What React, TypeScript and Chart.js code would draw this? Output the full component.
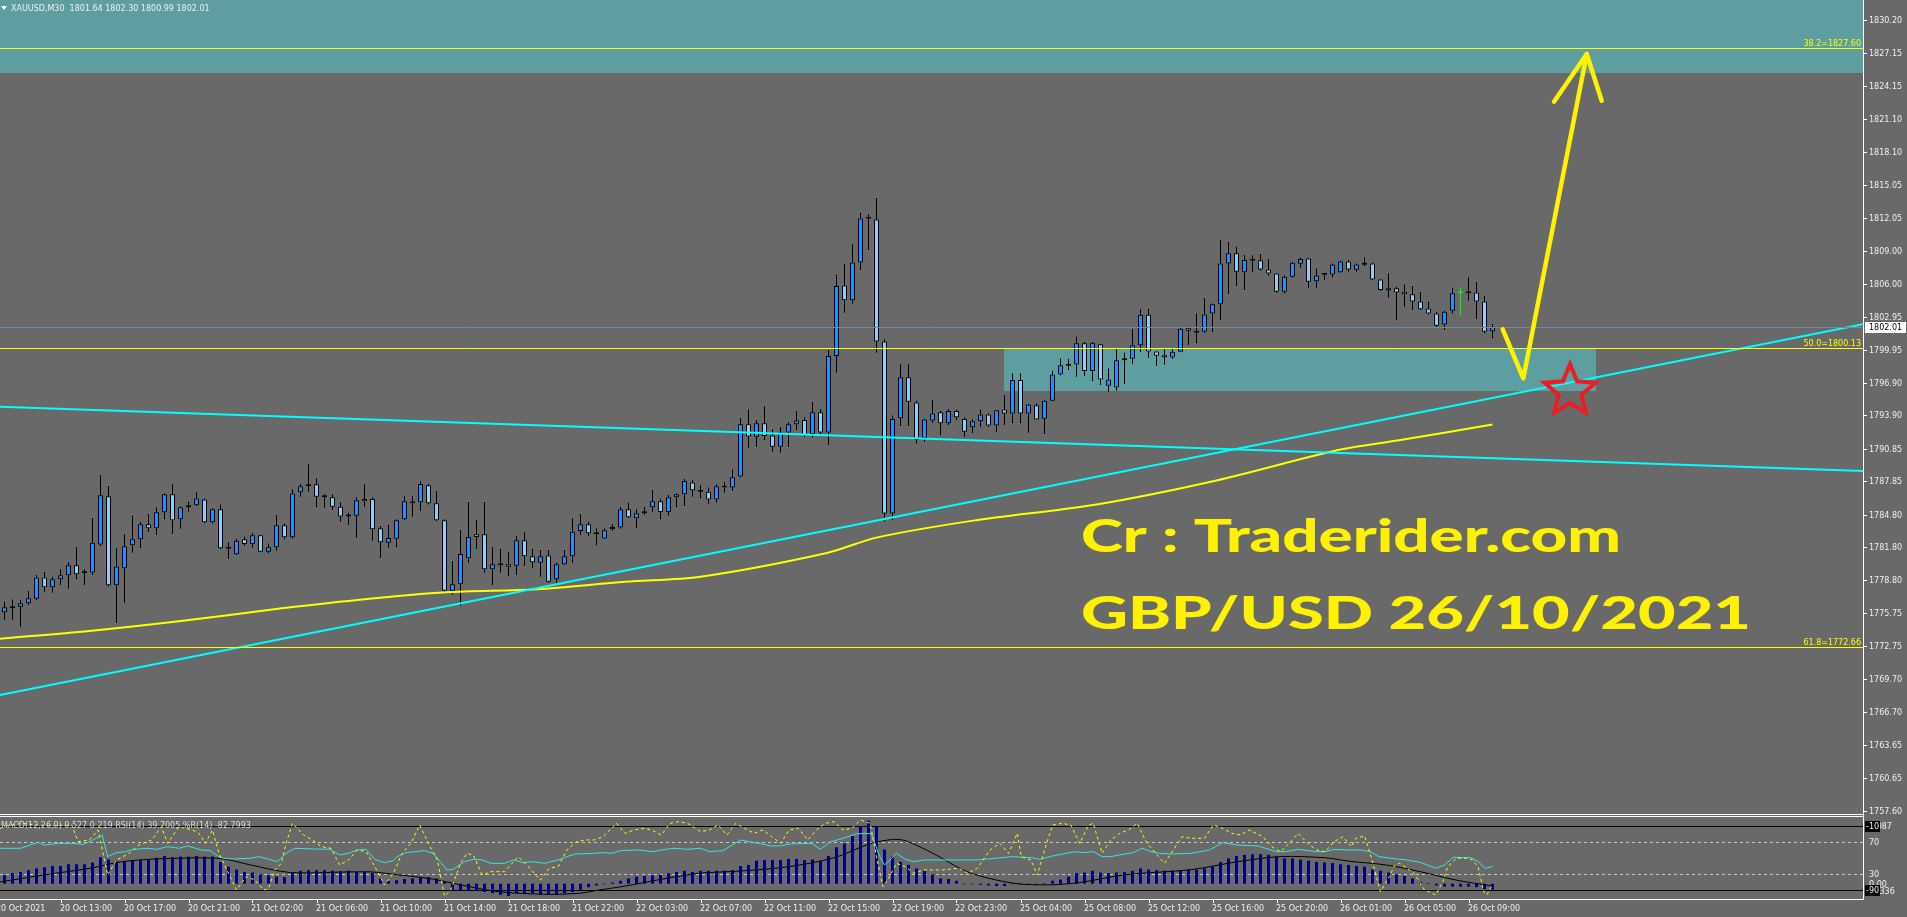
import React, { useEffect, useRef } from "react";
import { Chart, registerables } from "chart.js";

Chart.register(...registerables);

const W = 1907;
const H = 917;

const SYMBOL_HEADER = "XAUUSD,M30  1801.64 1802.30 1800.99 1802.01";
const INDICATOR_HEADER = "MACD(12,26,9) 0.527 0.219 RSI(14) 39.7005 %R(14) -82.7993";

// ---- OHLC (XAUUSD M30), bar 0 = 20 Oct 09:30 ----
const opens = [
  1775.83,1776.38,1776.35,1776.66,1777.09,1779.04,1778.13,1778.86,1779.23,1780.15,
  1779.41,1779.50,1782.07,1786.48,1778.31,1779.87,1781.98,1782.53,1783.91,1783.54,
  1785.01,1786.66,1784.37,1785.65,1785.65,1786.20,1784.09,1785.29,1781.71,1781.16,
  1782.53,1782.10,1782.90,1781.40,1781.80,1783.82,1782.72,1786.85,1787.58,1787.58,
  1786.45,1786.39,1785.53,1784.64,1784.70,1786.23,1786.23,1783.54,1782.23,1782.59,
  1784.37,1786.02,1785.93,1787.49,1785.84,1784.28,1777.82,1778.40,1780.79,1782.99,
  1782.99,1779.78,1780.24,1780.24,1780.11,1782.44,1780.97,1780.39,1781.06,1778.86,
  1780.24,1780.97,1783.30,1783.91,1783.17,1782.62,1783.48,1783.63,1785.29,1784.46,
  1784.92,1785.47,1786.02,1785.04,1786.39,1786.66,1787.76,1787.03,1786.90,1786.20,
  1787.40,1787.30,1788.31,1793.09,1791.95,1793.18,1792.07,1791.04,1792.35,1793.09,
  1793.48,1792.20,1794.19,1792.35,1799.36,1805.84,1804.47,1807.95,1811.96,1811.90,
  1800.70,1784.90,1793.64,1797.40,1795.10,1791.80,1793.45,1794.19,1793.18,1794.31,
  1793.57,1792.81,1793.36,1794.00,1792.99,1794.46,1794.09,1797.15,1794.09,1794.83,
  1793.60,1795.26,1797.67,1798.50,1798.59,1800.52,1797.98,1800.43,1796.63,1796.48,
  1798.96,1799.11,1800.34,1803.15,1799.78,1799.42,1799.23,1799.75,1801.90,1801.68,
  1801.59,1803.27,1804.10,1807.86,1808.78,1807.04,1808.17,1808.14,1807.31,1806.94,
  1805.26,1806.64,1807.83,1808.32,1806.21,1806.82,1806.85,1807.04,1808.04,1807.28,
  1807.74,1807.86,1806.39,1805.57,1805.57,1805.26,1805.02,1804.37,1803.73,1803.27,
  1802.26,1803.52,1805.11,1805.11,1805.20,1804.37,1801.64
];
const highs = [
  1776.81,1777.02,1776.96,1777.79,1779.26,1779.56,1779.11,1779.78,1780.42,1781.83,
  1779.78,1784.49,1788.44,1787.43,1781.74,1782.99,1784.73,1784.12,1784.83,1785.47,
  1786.75,1787.61,1785.56,1785.99,1786.88,1786.29,1785.38,1785.74,1782.26,1782.59,
  1782.78,1783.08,1782.93,1782.16,1784.77,1784.00,1787.12,1787.61,1789.42,1788.13,
  1786.66,1786.66,1785.93,1784.98,1786.39,1787.58,1786.39,1783.76,1783.85,1784.37,
  1786.48,1786.51,1787.89,1787.61,1786.97,1784.37,1780.51,1783.39,1785.96,1784.31,
  1785.96,1781.83,1781.64,1781.34,1782.84,1783.21,1781.64,1781.55,1781.55,1780.39,
  1781.55,1784.46,1784.83,1784.15,1783.54,1783.54,1783.91,1785.53,1785.90,1785.29,
  1785.53,1787.06,1786.26,1786.60,1786.75,1788.07,1787.98,1787.50,1787.30,1787.60,
  1787.80,1788.95,1793.67,1794.46,1793.48,1794.74,1792.63,1792.84,1793.27,1794.31,
  1793.73,1795.13,1794.49,1799.91,1806.85,1807.80,1809.64,1812.51,1812.36,1813.86,
  1800.90,1793.91,1798.62,1798.62,1795.26,1793.60,1795.32,1794.31,1794.49,1794.43,
  1793.73,1793.54,1794.46,1794.09,1794.40,1795.78,1797.77,1797.77,1794.95,1795.01,
  1795.30,1798.01,1799.14,1799.11,1801.13,1800.64,1800.64,1800.46,1798.22,1800.06,
  1799.69,1801.83,1803.64,1803.70,1799.80,1800.00,1800.06,1801.90,1802.05,1803.27,
  1804.65,1804.19,1810.00,1809.82,1809.39,1808.63,1808.60,1808.72,1808.26,1806.96,
  1806.76,1808.01,1808.38,1808.35,1807.40,1806.97,1807.86,1808.11,1808.17,1807.86,
  1808.41,1807.92,1806.42,1806.94,1805.72,1805.93,1805.78,1805.26,1804.34,1803.39,
  1803.52,1805.60,1805.66,1806.58,1806.15,1804.86,1802.30
];
const lows = [
  1775.13,1775.13,1774.52,1776.50,1776.96,1777.73,1777.64,1778.34,1778.00,1778.86,
  1778.34,1779.26,1781.90,1778.20,1774.88,1776.72,1781.31,1781.71,1783.24,1782.96,
  1784.37,1783.05,1783.51,1785.07,1785.59,1784.00,1784.00,1781.64,1780.76,1781.10,
  1781.95,1781.77,1781.36,1781.25,1781.49,1782.53,1782.62,1786.45,1786.91,1785.47,
  1785.44,1785.22,1784.15,1783.85,1782.68,1785.53,1782.41,1780.85,1781.77,1781.83,
  1784.28,1784.61,1785.13,1785.74,1784.20,1777.70,1777.48,1776.44,1780.39,1781.64,
  1779.47,1778.34,1779.47,1779.17,1779.26,1780.11,1779.87,1779.11,1778.55,1778.52,
  1780.20,1780.39,1782.93,1782.84,1781.98,1782.59,1783.30,1783.50,1784.50,1783.54,
  1784.77,1785.04,1784.37,1784.73,1785.47,1785.59,1786.45,1786.30,1785.80,1785.90,
  1786.80,1787.00,1788.20,1790.94,1791.04,1791.65,1790.57,1790.48,1791.04,1792.56,
  1791.95,1791.89,1792.10,1791.19,1797.83,1803.33,1804.16,1807.25,1809.09,1799.66,
  1784.20,1784.30,1792.93,1792.93,1791.34,1791.49,1793.24,1792.11,1793.02,1793.48,
  1791.95,1792.26,1792.87,1792.87,1792.41,1793.02,1793.18,1793.18,1792.32,1793.50,
  1792.20,1795.20,1797.60,1798.07,1797.46,1797.52,1797.06,1796.69,1796.08,1796.17,
  1796.79,1798.62,1799.75,1799.20,1798.47,1798.59,1799.08,1799.70,1800.37,1800.52,
  1801.50,1801.53,1802.66,1805.05,1805.78,1805.41,1807.10,1807.19,1806.73,1805.17,
  1805.11,1806.55,1807.46,1805.63,1805.63,1806.33,1806.58,1807.00,1807.10,1807.10,
  1807.62,1806.33,1805.35,1804.71,1802.66,1803.88,1803.58,1803.58,1803.20,1801.96,
  1801.74,1803.27,1803.12,1804.43,1802.75,1801.44,1800.99
];
const closes = [
  1776.29,1776.20,1776.66,1777.12,1779.04,1778.13,1778.86,1779.23,1780.15,1779.32,
  1779.50,1782.23,1786.57,1778.31,1780.05,1781.89,1782.53,1783.91,1783.54,1785.01,
  1786.66,1784.28,1785.47,1785.47,1786.29,1784.09,1785.29,1781.71,1781.68,1782.41,
  1782.10,1782.90,1781.40,1781.80,1783.82,1782.72,1786.75,1787.40,1787.40,1786.45,
  1786.39,1785.53,1784.64,1784.73,1786.11,1786.02,1783.45,1782.26,1782.65,1784.28,
  1786.02,1785.84,1787.61,1785.84,1784.28,1777.82,1778.40,1781.19,1782.75,1782.75,
  1779.78,1780.24,1780.15,1780.02,1782.44,1780.97,1780.42,1780.97,1778.65,1780.24,
  1780.97,1783.24,1783.91,1783.08,1782.99,1783.36,1783.66,1785.29,1784.55,1784.92,
  1785.10,1786.02,1785.04,1786.39,1786.66,1787.89,1787.03,1786.90,1786.20,1787.40,
  1787.30,1788.22,1793.09,1791.98,1793.18,1792.01,1791.04,1792.35,1793.09,1793.45,
  1792.11,1794.19,1792.35,1799.36,1805.78,1804.47,1807.95,1811.99,1812.05,1800.70,
  1784.90,1793.57,1797.40,1795.17,1791.65,1793.54,1794.09,1793.18,1794.31,1793.73,
  1792.41,1793.36,1794.00,1792.99,1794.37,1794.09,1797.15,1794.09,1794.92,1793.54,
  1795.26,1797.67,1798.50,1798.47,1800.52,1797.98,1800.58,1797.21,1797.21,1798.96,
  1799.02,1800.34,1803.15,1799.78,1799.39,1799.23,1799.75,1801.86,1801.68,1801.50,
  1803.18,1804.10,1807.86,1808.78,1807.10,1808.17,1808.11,1807.31,1806.94,1805.26,
  1806.64,1807.92,1808.26,1806.18,1806.76,1806.91,1807.77,1808.04,1807.31,1807.77,
  1807.83,1806.39,1805.41,1805.38,1805.20,1805.02,1804.37,1803.64,1803.27,1802.14,
  1803.43,1805.11,1805.11,1805.17,1804.37,1801.59,1802.01
];
const HIGHLIGHT_BAR = 182; // bar drawn in green on the chart

// moving average (read points: bar index, price)
const maPoints = [
  [-0.56,1773.41],[10.6,1774.12],[21.8,1775.01],[33.0,1776.05],[44.1,1776.96],[55.2,1777.67],
  [66.5,1777.95],[77.6,1778.64],[87.0,1779.10],[102.8,1781.28],[109.0,1782.69],[121.1,1784.25],
  [136.3,1785.71],[151.5,1787.94],[166.7,1790.73],[174.3,1791.62],[186.0,1793.07]
];

// trend lines (bar index, price)
const trendDown = [[-0.5625,1794.71],[232.3125,1788.81]];
const trendUp = [[-0.5625,1768.25],[232.3125,1802.28]];

// Fibonacci levels
const fibNames = ["38.2","50.0","61.8"];
const fibPrices = [1827.60,1800.13,1772.66];
const lastPrice = 1802.01;

// supply / demand zones
const topZoneLow = 1825.31;
const zoneFrom = 124.92, zoneTo = 198.94, zoneLow = 1796.18, zoneHigh = 1800.00;

// hand drawn arrow and star (bar index, price)
const arrowPath = [[187.28,1801.81],[189.85,1797.31],[197.78,1827.08]];
const arrowHead = [[193.69,1822.70],[197.78,1827.08],[199.65,1822.79]];
const starCenter = [195.69,1796.15];

const watermarkLines = ["Cr : Traderider.com","GBP/USD 26/10/2021"];
const watermarkBar = 134.56;
const watermarkPrices = [1781.40,1774.27];
const watermarkWidths = [540,670];

// axes
const priceTickLabels = [
  "1830.20","1827.15","1824.15","1821.10","1818.10","1815.05","1812.05","1809.00","1806.00",
  "1802.95","1799.95","1796.90","1793.90","1790.85","1787.85","1784.80","1781.80","1778.80",
  "1775.75","1772.75","1769.70","1766.70","1763.65","1760.65","1757.60"
];
const timeLabels = [
  "20 Oct 2021","20 Oct 13:00","20 Oct 17:00","20 Oct 21:00","21 Oct 02:00","21 Oct 06:00",
  "21 Oct 10:00","21 Oct 14:00","21 Oct 18:00","21 Oct 22:00","22 Oct 03:00","22 Oct 07:00",
  "22 Oct 11:00","22 Oct 15:00","22 Oct 19:00","22 Oct 23:00","25 Oct 04:00","25 Oct 08:00",
  "25 Oct 12:00","25 Oct 16:00","25 Oct 20:00","26 Oct 01:00","26 Oct 05:00","26 Oct 09:00"
];
const timeLabelBars = [-1,7,15,23,31,39,47,55,63,71,79,87,95,103,111,119,127,135,143,151,159,167,175,183];

// ---- indicator window ----
const macdHist = [
  0.14,0.18,0.20,0.23,0.26,0.28,0.30,0.30,0.33,0.33,
  0.33,0.36,0.45,0.41,0.38,0.37,0.39,0.40,0.40,0.44,
  0.47,0.45,0.46,0.46,0.47,0.46,0.46,0.37,0.29,0.24,
  0.20,0.19,0.16,0.14,0.12,0.11,0.18,0.22,0.23,0.23,
  0.23,0.22,0.21,0.22,0.20,0.20,0.18,0.09,0.05,0.06,
  0.08,0.09,0.11,0.11,0.09,0.03,-0.11,-0.11,-0.11,-0.12,
  -0.14,-0.16,-0.19,-0.21,-0.16,-0.16,-0.16,-0.18,-0.18,-0.19,
  -0.16,-0.14,-0.11,-0.06,-0.03,-0.01,0.02,0.05,0.09,0.12,
  0.13,0.14,0.15,0.18,0.20,0.22,0.20,0.22,0.22,0.22,
  0.22,0.23,0.30,0.32,0.39,0.40,0.40,0.40,0.42,0.42,
  0.40,0.41,0.39,0.47,0.62,0.68,0.81,0.98,1.07,0.97,
  0.58,0.46,0.37,0.32,0.26,0.22,0.16,0.09,0.08,0.05,
  -0.01,-0.01,-0.02,-0.03,-0.04,-0.04,-0.01,-0.01,-0.01,-0.01,
  0.01,0.05,0.07,0.12,0.18,0.19,0.22,0.19,0.18,0.19,
  0.20,0.22,0.26,0.24,0.23,0.22,0.22,0.23,0.24,0.24,
  0.26,0.30,0.37,0.43,0.47,0.49,0.50,0.50,0.49,0.46,
  0.43,0.43,0.41,0.39,0.37,0.36,0.35,0.33,0.32,0.30,
  0.29,0.24,0.22,0.19,0.16,0.13,0.09,0.03,0.01,-0.03,
  -0.05,-0.05,-0.05,-0.05,-0.06,-0.09,-0.10
];
const macdSignal = [
  [-0.56,0.03],[5.0,0.15],[10.6,0.26],[14.5,0.37],[19.0,0.42],[26.8,0.43],[30.7,0.32],[35.7,0.19],
  [43.0,0.20],[45.8,0.20],[48.6,0.16],[53.0,0.09],[55.3,0.03],[58.1,-0.05],[62.0,-0.14],[68.1,-0.18],
  [72.0,-0.16],[74.2,-0.11],[77.6,-0.04],[81.5,0.06],[85.4,0.15],[87.0,0.18],[92.5,0.22],[98.1,0.29],
  [103.7,0.44],[108.2,0.68],[111.0,0.75],[112.6,0.73],[116.0,0.52],[120.4,0.20],[126.0,0.01],
  [130.5,-0.02],[134.4,0.02],[140.0,0.15],[148.4,0.24],[154.0,0.37],[159.5,0.46],[165.1,0.44],
  [168.2,0.38],[172.6,0.32],[177.1,0.20],[181.5,0.06],[186.0,-0.04]
];
const rsiPoints = [
  [-0.56,62.5],[2.0,62.5],[4.2,70.0],[5.0,66.6],[6.7,68.7],[8.4,68.7],[9.8,67.5],[10.9,72.1],[12.2,79.2],
  [12.9,52.1],[14.0,57.1],[15.1,58.3],[16.2,61.2],[17.9,62.5],[19.0,61.2],[20.4,64.6],[21.8,62.5],
  [22.9,65.4],[24.6,60.4],[25.7,59.6],[26.8,52.1],[27.4,50.0],[28.5,49.2],[30.7,50.0],[31.8,52.1],
  [32.9,49.2],[34.1,45.8],[35.2,56.2],[36.3,62.5],[38.5,61.7],[40.7,61.2],[41.9,54.2],[43.0,56.2],
  [44.1,60.4],[45.2,61.2],[46.3,48.7],[47.5,44.6],[48.6,47.1],[49.1,52.1],[50.2,57.1],[51.4,58.3],
  [52.5,59.6],[53.6,56.2],[54.7,42.9],[55.3,35.4],[56.1,36.2],[57.5,45.8],[58.6,48.7],[59.7,47.9],
  [60.8,43.7],[62.5,43.7],[63.6,47.9],[64.8,44.6],[65.9,45.8],[67.5,43.7],[69.2,47.9],[70.3,52.1],
  [71.4,55.4],[73.7,56.2],[74.8,57.1],[75.9,56.2],[77.0,59.6],[79.3,60.4],[81.0,58.3],[82.6,61.2],
  [83.7,62.5],[85.4,61.2],[87.0,62.5],[88.1,58.3],[89.8,59.6],[92.0,72.9],[93.1,70.8],[94.2,68.7],
  [95.9,65.4],[97.0,65.4],[98.1,67.9],[100.9,68.7],[102.0,61.2],[103.1,70.0],[104.8,75.0],[106.5,80.4],
  [107.6,81.2],[108.4,80.4],[109.3,54.2],[110.0,41.7],[110.7,47.9],[111.5,56.2],[112.6,48.7],
  [113.7,45.8],[114.9,47.9],[118.2,47.9],[121.6,47.9],[123.8,50.0],[126.0,52.1],[128.3,50.8],
  [129.4,48.7],[131.0,52.9],[132.7,56.2],[133.8,58.3],[135.0,57.1],[136.1,58.3],[137.2,52.1],
  [138.3,52.1],[139.4,54.2],[141.1,57.1],[142.2,62.5],[143.3,58.3],[144.4,56.2],[146.1,55.4],
  [148.3,56.2],[150.6,60.4],[152.3,69.6],[154.0,66.6],[156.7,65.4],[159.0,58.3],[160.1,58.3],
  [161.7,61.2],[164.0,58.3],[165.1,58.3],[166.2,61.2],[167.9,60.4],[169.6,60.4],[170.7,58.3],
  [171.8,52.1],[174.0,49.2],[175.3,47.9],[177.1,44.6],[178.9,37.5],[180.0,41.7],[181.1,51.2],
  [183.3,50.8],[184.2,45.8],[185.1,37.5],[186.0,39.7]
];
const wprPoints = [
  [-0.56,-12.5],[0.6,-8.4],[2.3,-6.3],[3.9,-8.4],[6.2,-9.6],[8.4,-8.4],[9.2,-29.2],[10.6,-27.1],
  [11.7,-14.6],[12.9,-70.9],[14.0,-52.1],[15.6,-43.8],[16.8,-33.4],[18.4,-27.1],[19.6,-10.5],
  [20.4,-31.3],[21.8,-10.5],[23.5,-14.6],[24.3,-18.8],[25.1,-31.3],[26.0,-14.6],[26.8,-43.8],
  [28.0,-68.8],[29.0,-89.6],[30.2,-73.0],[31.3,-77.1],[32.4,-89.6],[33.0,-87.5],[33.8,-64.6],
  [34.6,-56.3],[35.2,-31.3],[36.0,-6.3],[37.4,-20.9],[38.5,-27.1],[39.6,-35.5],[40.8,-37.5],
  [41.9,-58.4],[43.0,-52.1],[44.1,-39.6],[45.2,-41.7],[46.3,-60.5],[47.5,-83.4],[48.6,-68.8],
  [49.7,-43.8],[50.8,-31.3],[51.9,-8.4],[53.0,-31.3],[54.1,-52.1],[55.0,-97.1],[55.8,-89.6],
  [57.0,-56.3],[57.8,-43.8],[58.6,-45.9],[59.7,-70.9],[60.8,-66.7],[62.5,-66.7],[64.2,-48.0],
  [65.3,-58.4],[66.4,-70.9],[67.0,-77.1],[68.1,-62.5],[69.2,-60.5],[70.3,-39.6],[71.5,-29.2],
  [72.6,-27.1],[73.7,-27.1],[74.8,-23.0],[76.5,-6.3],[77.6,-18.8],[78.7,-14.6],[79.8,-12.5],
  [80.9,-14.6],[82.1,-20.9],[83.2,-6.3],[84.3,-4.2],[85.4,-6.3],[87.0,-16.7],[88.1,-14.6],
  [89.2,-8.4],[90.3,-20.9],[91.4,-6.3],[92.5,-12.5],[93.7,-18.8],[94.8,-14.6],[95.9,-23.0],
  [97.0,-31.3],[98.1,-14.6],[99.2,-12.5],[100.4,-27.1],[101.5,-14.6],[102.6,-6.3],[103.7,-4.2],
  [104.8,-14.6],[105.9,-12.5],[107.0,-2.1],[108.2,-6.3],[109.0,-48.0],[109.8,-85.5],[110.4,-77.1],
  [111.5,-56.3],[112.6,-60.5],[113.7,-68.8],[114.9,-64.6],[117.1,-64.6],[119.3,-62.5],[120.4,-68.8],
  [121.6,-62.5],[123.2,-39.6],[124.4,-31.3],[125.5,-43.8],[126.6,-18.8],[127.1,-48.0],[128.3,-52.1],
  [129.1,-70.9],[130.0,-39.6],[131.0,-8.4],[132.2,-6.3],[133.3,-8.4],[134.4,-31.3],[135.5,-8.4],
  [136.1,-6.3],[137.2,-43.8],[138.3,-27.1],[139.4,-18.8],[140.5,-14.6],[141.6,-6.3],[142.8,-31.3],
  [143.9,-43.8],[145.0,-56.3],[146.1,-39.6],[147.2,-23.0],[148.3,-25.0],[150.0,-25.0],[151.1,-8.4],
  [152.3,-12.5],[153.4,-18.8],[154.5,-20.9],[155.6,-14.6],[157.3,-23.0],[158.4,-35.5],[159.5,-41.7],
  [160.6,-31.3],[161.7,-18.8],[162.9,-31.3],[164.0,-39.6],[165.1,-41.7],[166.2,-29.2],[167.3,-23.0],
  [168.4,-35.5],[168.9,-25.0],[170.0,-22.1],[170.7,-43.8],[172.0,-91.7],[173.1,-73.0],[173.8,-58.4],
  [174.4,-56.3],[175.3,-62.5],[176.2,-68.8],[177.5,-89.6],[178.9,-95.9],[179.8,-79.2],[180.4,-60.5],
  [181.5,-50.0],[182.9,-50.0],[183.5,-52.1],[184.2,-60.5],[184.9,-91.7],[185.3,-95.9],[186.0,-82.8]
];
const rsiLevels = [70, 30];
const wprLevels = [-10, -90];
const macdMaxLabel = "1.087";
const macdMinLabel = "-0.336";
const macdZeroLabel = "0.00";

// ---- colours ----
const BG = "#696969";
const ZONE = "#5f9ea0";
const BULL = "#1e90ff";
const BEAR = "#87cefa";
const GREEN = "#00ff00";
const FIB = "#ffff00";
const BID = "#778899";
const CYAN = "#00ffff";
const MA = "#ffff00";
const HIST = "#00008b";
const RSI = "#30e6e6";
const WPR = "#ffff00";
const TXT = "#f0f0f0";
const DRAW = "#fff200";
const STAR = "#ed1c24";
const SMALL_FONT = '8px "DejaVu Sans", Tahoma, sans-serif';

const pts = (arr: number[][]) => arr.map(([x, y]) => ({ x, y }));

const mt4Plugin = {
  id: "mt4",
  beforeDraw(chart: any) {
    const { ctx } = chart;
    const xs = chart.scales.x, ys = chart.scales.y, rs = chart.scales.yRsi, ws = chart.scales.yWpr;
    const right = chart.chartArea.right;
    ctx.save();
    ctx.fillStyle = BG;
    ctx.fillRect(0, 0, chart.width, chart.height);
    ctx.fillStyle = ZONE;
    const ty = Math.round(ys.getPixelForValue(topZoneLow));
    ctx.fillRect(0, 0, right, ty);
    const zx0 = Math.round(xs.getPixelForValue(zoneFrom));
    const zx1 = Math.round(xs.getPixelForValue(zoneTo));
    const zy0 = Math.round(ys.getPixelForValue(zoneHigh));
    const zy1 = Math.round(ys.getPixelForValue(zoneLow));
    ctx.fillRect(zx0, zy0, zx1 - zx0, zy1 - zy0);
    const hline = (y: number, color: string, dash: number[]) => {
      ctx.beginPath();
      ctx.strokeStyle = color;
      ctx.lineWidth = 1;
      ctx.setLineDash(dash);
      const yy = Math.round(y) + 0.5;
      ctx.moveTo(0, yy);
      ctx.lineTo(right, yy);
      ctx.stroke();
    };
    rsiLevels.forEach((v) => hline(rs.getPixelForValue(v), "#c8c8c8", [3, 3]));
    wprLevels.forEach((v) => hline(ws.getPixelForValue(v), "#000000", []));
    ctx.restore();
  },
  afterDatasetsDraw(chart: any) {
    const { ctx } = chart;
    const xs = chart.scales.x, ys = chart.scales.y;
    const right = chart.chartArea.right;
    const P = (p: number[]) => [xs.getPixelForValue(p[0]), ys.getPixelForValue(p[1])];
    ctx.save();
    const hline = (y: number, color: string) => {
      ctx.beginPath();
      ctx.strokeStyle = color;
      ctx.lineWidth = 1;
      const yy = Math.round(y) + 0.5;
      ctx.moveTo(0, yy);
      ctx.lineTo(right, yy);
      ctx.stroke();
    };
    hline(ys.getPixelForValue(lastPrice), BID);
    ctx.font = SMALL_FONT;
    ctx.textAlign = "right";
    ctx.textBaseline = "alphabetic";
    fibPrices.forEach((p, i) => {
      const y = ys.getPixelForValue(p);
      hline(y, FIB);
      ctx.fillStyle = FIB;
      ctx.fillText(fibNames[i] + "=" + p.toFixed(2), right - 2, Math.round(y) - 2);
    });
    // arrow
    ctx.strokeStyle = DRAW;
    ctx.lineWidth = 4.5;
    ctx.lineCap = "round";
    ctx.lineJoin = "round";
    [arrowPath, arrowHead].forEach((path) => {
      ctx.beginPath();
      path.forEach((p, i) => {
        const [x, y] = P(p);
        if (i === 0) ctx.moveTo(x, y); else ctx.lineTo(x, y);
      });
      ctx.stroke();
    });
    // star
    const [cx, cy] = P(starCenter);
    const R = 27, r = 12;
    ctx.beginPath();
    for (let k = 0; k < 10; k++) {
      const a = -Math.PI / 2 + (k * Math.PI) / 5;
      const rr = k % 2 === 0 ? R : r;
      const x = cx + rr * Math.cos(a), y = cy + rr * Math.sin(a);
      if (k === 0) ctx.moveTo(x, y); else ctx.lineTo(x, y);
    }
    ctx.closePath();
    ctx.strokeStyle = STAR;
    ctx.lineWidth = 4;
    ctx.lineJoin = "miter";
    ctx.stroke();
    // watermark
    ctx.fillStyle = DRAW;
    ctx.textAlign = "left";
    ctx.font = '900 46px Lato, "DejaVu Sans", sans-serif';
    watermarkLines.forEach((t, i) => {
      const x = xs.getPixelForValue(watermarkBar);
      const y = ys.getPixelForValue(watermarkPrices[i]);
      const w = ctx.measureText(t).width;
      ctx.save();
      ctx.translate(x, y);
      ctx.scale(watermarkWidths[i] / w, 1);
      ctx.fillText(t, 0, 0);
      ctx.restore();
    });
    ctx.restore();
  },
  afterDraw(chart: any) {
    const { ctx } = chart;
    const xs = chart.scales.x, ys = chart.scales.y, ms = chart.scales.yMacd, rs = chart.scales.yRsi, ws = chart.scales.yWpr;
    const right = chart.chartArea.right;
    const bottom = chart.chartArea.bottom;
    ctx.save();
    ctx.fillStyle = "#ffffff";
    ctx.fillRect(right, 0, 1, bottom + 1);
    ctx.fillRect(0, 814, right + 1, 1);
    ctx.fillRect(0, 816, right + 1, 1);
    ctx.fillRect(0, bottom, right + 1, 1);
    ctx.font = SMALL_FONT;
    ctx.textAlign = "left";
    ctx.textBaseline = "alphabetic";
    priceTickLabels.forEach((t) => {
      const y = Math.round(ys.getPixelForValue(parseFloat(t)));
      ctx.fillStyle = "#ffffff";
      ctx.fillRect(right + 1, y, 3, 1);
      ctx.fillStyle = TXT;
      ctx.fillText(t, right + 6, y + 3);
    });
    const ly = Math.round(ys.getPixelForValue(lastPrice));
    ctx.fillStyle = "#ffffff";
    ctx.fillRect(right + 2, ly - 5, 41, 11);
    ctx.fillStyle = "#000000";
    ctx.fillText(lastPrice.toFixed(2), right + 6, ly + 3);
    ctx.fillStyle = TXT;
    rsiLevels.forEach((v) => {
      const y = Math.round(rs.getPixelForValue(v));
      ctx.fillText(String(v), right + 6, y + 3);
    });
    const zy = Math.round(ms.getPixelForValue(0));
    ctx.fillText(macdZeroLabel, right + 6, zy + 3);
    const y10 = Math.round(ws.getPixelForValue(wprLevels[0]));
    const y90 = Math.round(ws.getPixelForValue(wprLevels[1]));
    ctx.fillText(macdMaxLabel, right + 6, y10 + 3);
    ctx.fillText(macdMinLabel, right + 6, y90 + 4);
    [[y10, wprLevels[0]], [y90, wprLevels[1]]].forEach(([y, v]) => {
      ctx.fillStyle = "#000000";
      ctx.fillRect(right + 2, y - 5, 15, 11);
      ctx.fillStyle = TXT;
      ctx.fillText(String(v), right + 3, y + 3);
    });
    timeLabelBars.forEach((b, i) => {
      const x = Math.round(xs.getPixelForValue(b));
      ctx.fillStyle = "#ffffff";
      ctx.fillRect(x, bottom + 1, 1, 3);
      ctx.fillStyle = TXT;
      ctx.fillText(timeLabels[i], x - 1, bottom + 12);
    });
    ctx.fillStyle = "#ffffff";
    ctx.beginPath();
    ctx.moveTo(1, 6);
    ctx.lineTo(7, 6);
    ctx.lineTo(4, 10);
    ctx.closePath();
    ctx.fill();
    ctx.fillStyle = TXT;
    ctx.fillText(SYMBOL_HEADER, 11, 11);
    ctx.fillStyle = "#d8d8d8";
    ctx.fillText(INDICATOR_HEADER, 1, 828);
    ctx.restore();
  },
};

export default function App() {
  const ref = useRef<HTMLCanvasElement>(null);
  useEffect(() => {
    const canvas = ref.current;
    if (!canvas) return;
    const bars = opens.map((_, i) => i);
    const bodyFill = bars.map((i) => (closes[i] >= opens[i] ? BULL : BEAR));
    const bodyBorder = bars.map((i) => (i === HIGHLIGHT_BAR ? GREEN : "#000000"));
    const wickColor = bars.map((i) => (i === HIGHLIGHT_BAR ? GREEN : "#000000"));
    const yScale = (min: number, max: number) => ({
      type: "linear", axis: "y", position: "right", display: false, min, max, beginAtZero: false, bounds: "data",
    });
    const chart = new Chart(canvas, {
      type: "bar",
      data: {
        datasets: [
          {
            type: "line", label: "trend down", data: pts(trendDown), borderColor: CYAN, borderWidth: 2,
            pointRadius: 0, yAxisID: "y", xAxisID: "x", order: 0,
          },
          {
            type: "line", label: "trend up", data: pts(trendUp), borderColor: CYAN, borderWidth: 2,
            pointRadius: 0, yAxisID: "y", xAxisID: "x", order: 0,
          },
          {
            type: "line", label: "MA", data: pts(maPoints), borderColor: MA, borderWidth: 2,
            pointRadius: 0, tension: 0.3, yAxisID: "y", xAxisID: "x", order: 1,
          },
          {
            type: "bar", label: "bodies",
            data: bars.map((i) => ({ x: i, y: [opens[i], closes[i]] })),
            backgroundColor: bodyFill, borderColor: bodyBorder, borderWidth: 1, borderSkipped: false,
            barThickness: 5, minBarLength: 2, grouped: false, inflateAmount: 0,
            yAxisID: "y", xAxisID: "x", order: 2,
          },
          {
            type: "bar", label: "wicks",
            data: bars.map((i) => ({ x: i, y: [lows[i], highs[i]] })),
            backgroundColor: wickColor, borderWidth: 0, barThickness: 1, minBarLength: 1,
            grouped: false, inflateAmount: 0, yAxisID: "y", xAxisID: "x", order: 3,
          },
          {
            type: "line", label: "%R", data: pts(wprPoints), borderColor: WPR, borderWidth: 1,
            borderDash: [3, 3], pointRadius: 0, yAxisID: "yWpr", xAxisID: "x", order: 4,
          },
          {
            type: "line", label: "RSI", data: pts(rsiPoints), borderColor: RSI, borderWidth: 1,
            pointRadius: 0, yAxisID: "yRsi", xAxisID: "x", order: 5,
          },
          {
            type: "line", label: "signal", data: pts(macdSignal), borderColor: "#000000", borderWidth: 1,
            pointRadius: 0, tension: 0.3, yAxisID: "yMacd", xAxisID: "x", order: 6,
          },
          {
            type: "bar", label: "MACD", data: bars.map((i) => ({ x: i, y: macdHist[i] })),
            backgroundColor: HIST, borderWidth: 0, barThickness: 3, grouped: false, inflateAmount: 0,
            yAxisID: "yMacd", xAxisID: "x", order: 7,
          },
        ],
      },
      options: {
        responsive: false,
        maintainAspectRatio: false,
        animation: false,
        devicePixelRatio: 1,
        events: [],
        layout: { padding: { left: 0, top: 0, right: 44, bottom: 18 } },
        plugins: { legend: { display: false }, tooltip: { enabled: false } },
        scales: {
          x: { type: "linear", axis: "x", display: false, min: -0.5625, max: 232.3125, offset: false, bounds: "data", grid: { offset: false } },
          y: yScale(1749.521, 1832.0357),
          yMacd: yScale(-0.2598, 15.003),
          yRsi: yScale(-0.875, 1122.875),
          yWpr: yScale(-100.875, 1022.875),
        },
      } as any,
      plugins: [mt4Plugin as any],
    } as any);
    return () => chart.destroy();
  }, []);
  return (
    <div style={{ position: "fixed", left: 0, top: 0, width: W, height: H, background: BG, overflow: "hidden" }}>
      <canvas ref={ref} width={W} height={H} style={{ display: "block", width: W, height: H }} />
    </div>
  );
}
